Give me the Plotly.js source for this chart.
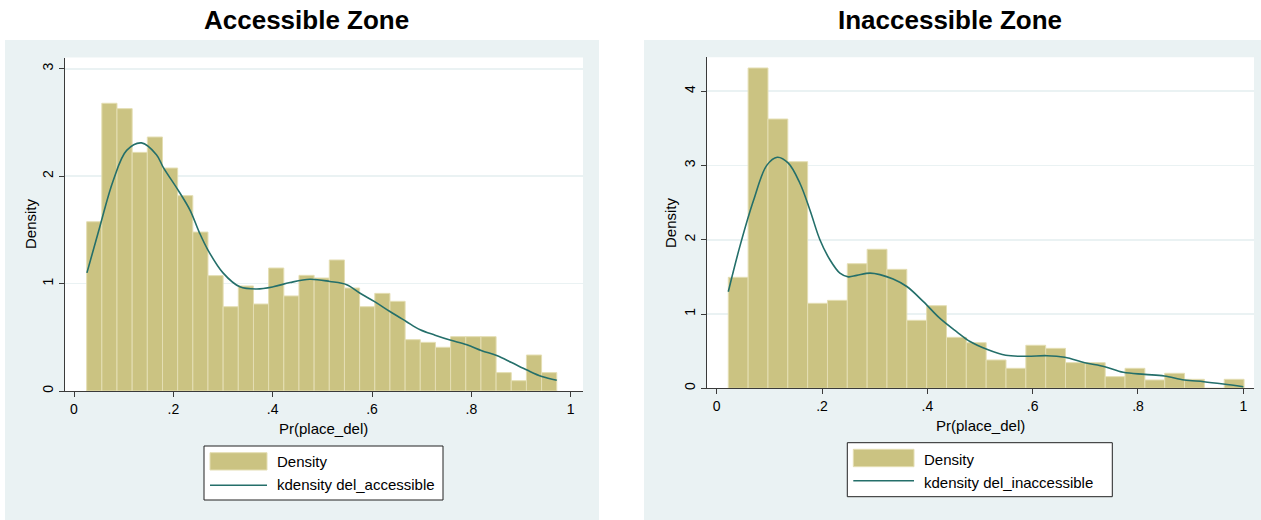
<!DOCTYPE html>
<html>
<head>
<meta charset="utf-8">
<script src="https://cdn.plot.ly/plotly-3.0.1.min.js"></script>
<style>
  html, body { margin: 0; padding: 0; background: #ffffff; }
  #chart { width: 1261px; height: 520px; }
</style>
</head>
<body>
<div id="chart"></div>
<script>
// ---- Histogram bins: Accessible Zone ----
const accBinStart = 0.0255;
const accBinWidth = 0.03053;
const accDensity = [1.576, 2.679, 2.629, 2.222, 2.365, 2.076, 1.819, 1.480, 1.074, 0.785,
                    0.978, 0.810, 1.145, 0.885, 1.077, 1.052, 1.220, 0.959, 0.785, 0.909,
                    0.835, 0.478, 0.453, 0.407, 0.506, 0.506, 0.506, 0.171, 0.096, 0.335, 0.171];

// Kernel density: Accessible Zone
const accKdeX = [0.026, 0.052, 0.079, 0.106, 0.136, 0.166, 0.180, 0.211, 0.234, 0.252, 0.270,
                 0.300, 0.334, 0.368, 0.401, 0.435, 0.475, 0.515, 0.549, 0.576, 0.606, 0.636,
                 0.668, 0.697, 0.727, 0.757, 0.791, 0.821, 0.851, 0.881, 0.912, 0.942, 0.972];
const accKdeY = [1.10, 1.53, 1.96, 2.24, 2.31, 2.20, 2.08, 1.86, 1.68, 1.48, 1.31,
                 1.10, 0.97, 0.95, 0.97, 1.01, 1.04, 1.02, 0.99, 0.91, 0.83, 0.74,
                 0.65, 0.57, 0.52, 0.475, 0.43, 0.375, 0.33, 0.265, 0.195, 0.135, 0.10];

// ---- Histogram bins: Inaccessible Zone ----
const inaccBinStart = 0.022;
const inaccBinWidth = 0.03767;
const inaccDensity = [1.494, 4.311, 3.624, 3.050, 1.144, 1.184, 1.677, 1.871, 1.601, 0.915,
                      1.112, 0.686, 0.614, 0.381, 0.269, 0.579, 0.538, 0.345, 0.345, 0.157,
                      0.269, 0.112, 0.202, 0.121, 0, 0.121];

// Kernel density: Inaccessible Zone
const inaccKdeX = [0.022, 0.044, 0.070, 0.095, 0.115, 0.136, 0.158, 0.177, 0.196, 0.215, 0.234,
                   0.250, 0.266, 0.291, 0.310, 0.335, 0.361, 0.392, 0.424, 0.456, 0.481, 0.513,
                   0.549, 0.589, 0.627, 0.661, 0.699, 0.737, 0.772, 0.813, 0.850, 0.888, 0.925,
                   0.962, 1.000];
const inaccKdeY = [1.30, 1.91, 2.53, 3.00, 3.11, 3.03, 2.76, 2.40, 2.00, 1.73, 1.55,
                   1.50, 1.52, 1.55, 1.53, 1.47, 1.37, 1.17, 0.94, 0.76, 0.63, 0.525,
                   0.444, 0.431, 0.439, 0.417, 0.345, 0.291, 0.215, 0.188, 0.166, 0.112, 0.089,
                   0.058, 0.022];

// Tick labels
const xTickVals = [0, 0.2, 0.4, 0.6, 0.8, 1];
const xTickText = ['0', '.2', '.4', '.6', '.8', '1'];
const accYTicks = [0, 1, 2, 3];
const inaccYTicks = [0, 1, 2, 3, 4];

const panelTitles = ['Accessible Zone', 'Inaccessible Zone'];
const xTitle = 'Pr(place_del)';
const yTitle = 'Density';
const legendBar = 'Density';
const legendLines = ['kdensity del_accessible', 'kdensity del_inaccessible'];

// ---- Styling ----
const W = 1261, H = 520;
const FONT = 'Liberation Sans, Arial, Helvetica, sans-serif';
const BAR_FILL = '#cbc382';
const BAR_EDGE = '#e4deb3';
const LINE_COLOR = '#246f6a';
const REGION_BG = '#eaf2f3';
const AXIS_COLOR = '#3a3a3a';

// pixel -> paper coordinates
const fx = p => p / W;
const fy = p => 1 - p / H;

function binCenters(start, width, n) {
  const out = [];
  for (let i = 0; i < n; i++) out.push(start + (i + 0.5) * width);
  return out;
}

const traces = [
  {
    type: 'bar', xaxis: 'x', yaxis: 'y',
    x: binCenters(accBinStart, accBinWidth, accDensity.length),
    y: accDensity, width: accBinWidth,
    marker: { color: BAR_FILL, line: { color: BAR_EDGE, width: 1 } },
    name: legendBar, hoverinfo: 'skip'
  },
  {
    type: 'scatter', mode: 'lines', xaxis: 'x', yaxis: 'y',
    x: accKdeX, y: accKdeY,
    line: { color: LINE_COLOR, width: 1.6, shape: 'spline', smoothing: 1 },
    name: legendLines[0], hoverinfo: 'skip'
  },
  {
    type: 'bar', xaxis: 'x2', yaxis: 'y2',
    x: binCenters(inaccBinStart, inaccBinWidth, inaccDensity.length),
    y: inaccDensity, width: inaccBinWidth,
    marker: { color: BAR_FILL, line: { color: BAR_EDGE, width: 1 } },
    name: legendBar, hoverinfo: 'skip'
  },
  {
    type: 'scatter', mode: 'lines', xaxis: 'x2', yaxis: 'y2',
    x: inaccKdeX, y: inaccKdeY,
    line: { color: LINE_COLOR, width: 1.6, shape: 'spline', smoothing: 1 },
    name: legendLines[1], hoverinfo: 'skip'
  }
];

function xAxisCfg(domain, range, anchor) {
  return {
    domain: domain, range: range, anchor: anchor, fixedrange: true,
    tickmode: 'array', tickvals: xTickVals, ticktext: xTickText,
    ticks: 'outside', ticklen: 5, tickwidth: 1, tickcolor: AXIS_COLOR,
    showline: true, linecolor: AXIS_COLOR, linewidth: 1,
    showgrid: false, zeroline: false, automargin: false,
    tickfont: { family: FONT, size: 14, color: '#000' }
  };
}
function yAxisCfg(domain, range, anchor, ticks) {
  return {
    domain: domain, range: range, anchor: anchor, fixedrange: true,
    tickmode: 'array', tickvals: ticks, ticktext: ticks.map(String),
    tickangle: -90,
    ticks: 'outside', ticklen: 5, tickwidth: 1, tickcolor: AXIS_COLOR,
    showline: true, linecolor: AXIS_COLOR, linewidth: 1,
    showgrid: true, gridcolor: REGION_BG, gridwidth: 1.6,
    zeroline: false, automargin: false,
    tickfont: { family: FONT, size: 14, color: '#000' }
  };
}

// Plot regions (pixels)
const L = { x0: 65, x1: 583, y0: 57.5, y1: 391 };
const R = { x0: 706.7, x1: 1254, y0: 57.3, y1: 388.3 };

const shapes = [
  // graph regions
  { type: 'rect', xref: 'paper', yref: 'paper', layer: 'below', x0: fx(5), x1: fx(599), y0: fy(520), y1: fy(40),
    fillcolor: REGION_BG, line: { width: 0 } },
  { type: 'rect', xref: 'paper', yref: 'paper', layer: 'below', x0: fx(644), x1: fx(1261), y0: fy(520), y1: fy(40),
    fillcolor: REGION_BG, line: { width: 0 } },
  // white plot regions
  { type: 'rect', xref: 'paper', yref: 'paper', layer: 'below', x0: fx(L.x0), x1: fx(L.x1), y0: fy(L.y1), y1: fy(L.y0),
    fillcolor: '#ffffff', line: { width: 0 } },
  { type: 'rect', xref: 'paper', yref: 'paper', layer: 'below', x0: fx(R.x0), x1: fx(R.x1), y0: fy(R.y1), y1: fy(R.y0),
    fillcolor: '#ffffff', line: { width: 0 } }
];

const annotations = [];
function addText(text, x, y, opts) {
  annotations.push(Object.assign({
    text: text, xref: 'paper', yref: 'paper', x: fx(x), y: fy(y),
    xanchor: 'center', yanchor: 'middle', showarrow: false,
    font: { family: FONT, size: 15, color: '#000' }
  }, opts || {}));
}

// panel titles
addText('<b>' + panelTitles[0] + '</b>', 306, 20.5, { font: { family: FONT, size: 26, color: '#000' } });
addText('<b>' + panelTitles[1] + '</b>', 950, 20.5, { font: { family: FONT, size: 26, color: '#000' } });

// axis titles
addText(xTitle, (L.x0 + L.x1) / 2, 428);
addText(xTitle, (R.x0 + R.x1) / 2, 425);
addText(yTitle, 30, 224, { textangle: -90 });
addText(yTitle, 670, 223, { textangle: -90 });

// legend boxes
function addLegend(bx0, by0, bx1, by1, sw, lineY, textX, t1Y, t2Y, label2) {
  shapes.push({ type: 'rect', xref: 'paper', yref: 'paper', x0: fx(bx0), x1: fx(bx1), y0: fy(by1), y1: fy(by0),
    fillcolor: '#ffffff', line: { color: '#222', width: 1 } });
  shapes.push({ type: 'rect', xref: 'paper', yref: 'paper', x0: fx(sw.x0), x1: fx(sw.x1), y0: fy(sw.y1), y1: fy(sw.y0),
    fillcolor: BAR_FILL, line: { color: BAR_EDGE, width: 1 } });
  shapes.push({ type: 'line', xref: 'paper', yref: 'paper', x0: fx(sw.x0), x1: fx(sw.x1), y0: fy(lineY), y1: fy(lineY),
    line: { color: LINE_COLOR, width: 1.6 } });
  addText(legendBar, textX, t1Y, { xanchor: 'left' });
  addText(label2, textX, t2Y, { xanchor: 'left' });
}
addLegend(204, 446, 443, 500, { x0: 210, x1: 267, y0: 452.7, y1: 470 }, 485.3, 274.5, 461.7, 484.7, legendLines[0]);
addLegend(847.3, 442.7, 1112.3, 496.7, { x0: 853.3, x1: 914, y0: 449.3, y1: 466.7 }, 480.7, 921.5, 459.3, 482.7, legendLines[1]);

// axis ranges derived from plot region pixel extents
const accX0px = 74, accPxPerUnitX = 496.7, accY0px = 391, accPxPerUnitY = 107.4;
const inX0px = 716.7, inPxPerUnitX = 526.6, inY0px = 388.3, inPxPerUnitY = 74.3;

const layout = {
  width: W, height: H,
  margin: { l: 0, r: 0, t: 0, b: 0, pad: 0 },
  paper_bgcolor: '#ffffff', plot_bgcolor: 'rgba(0,0,0,0)',
  showlegend: false,
  barmode: 'overlay',
  font: { family: FONT, color: '#000' },
  xaxis: xAxisCfg([fx(L.x0), fx(L.x1)],
    [-(accX0px - L.x0) / accPxPerUnitX, (L.x1 - accX0px) / accPxPerUnitX], 'y'),
  yaxis: yAxisCfg([fy(L.y1), fy(L.y0)], [0, (accY0px - L.y0) / accPxPerUnitY], 'x', accYTicks),
  xaxis2: xAxisCfg([fx(R.x0), fx(R.x1)],
    [-(inX0px - R.x0) / inPxPerUnitX, (R.x1 - inX0px) / inPxPerUnitX], 'y2'),
  yaxis2: yAxisCfg([fy(R.y1), fy(R.y0)], [0, (inY0px - R.y0) / inPxPerUnitY], 'x2', inaccYTicks),
  shapes: shapes,
  annotations: annotations
};

Plotly.newPlot('chart', traces, layout, { displayModeBar: false, staticPlot: true });
</script>
</body>
</html>
